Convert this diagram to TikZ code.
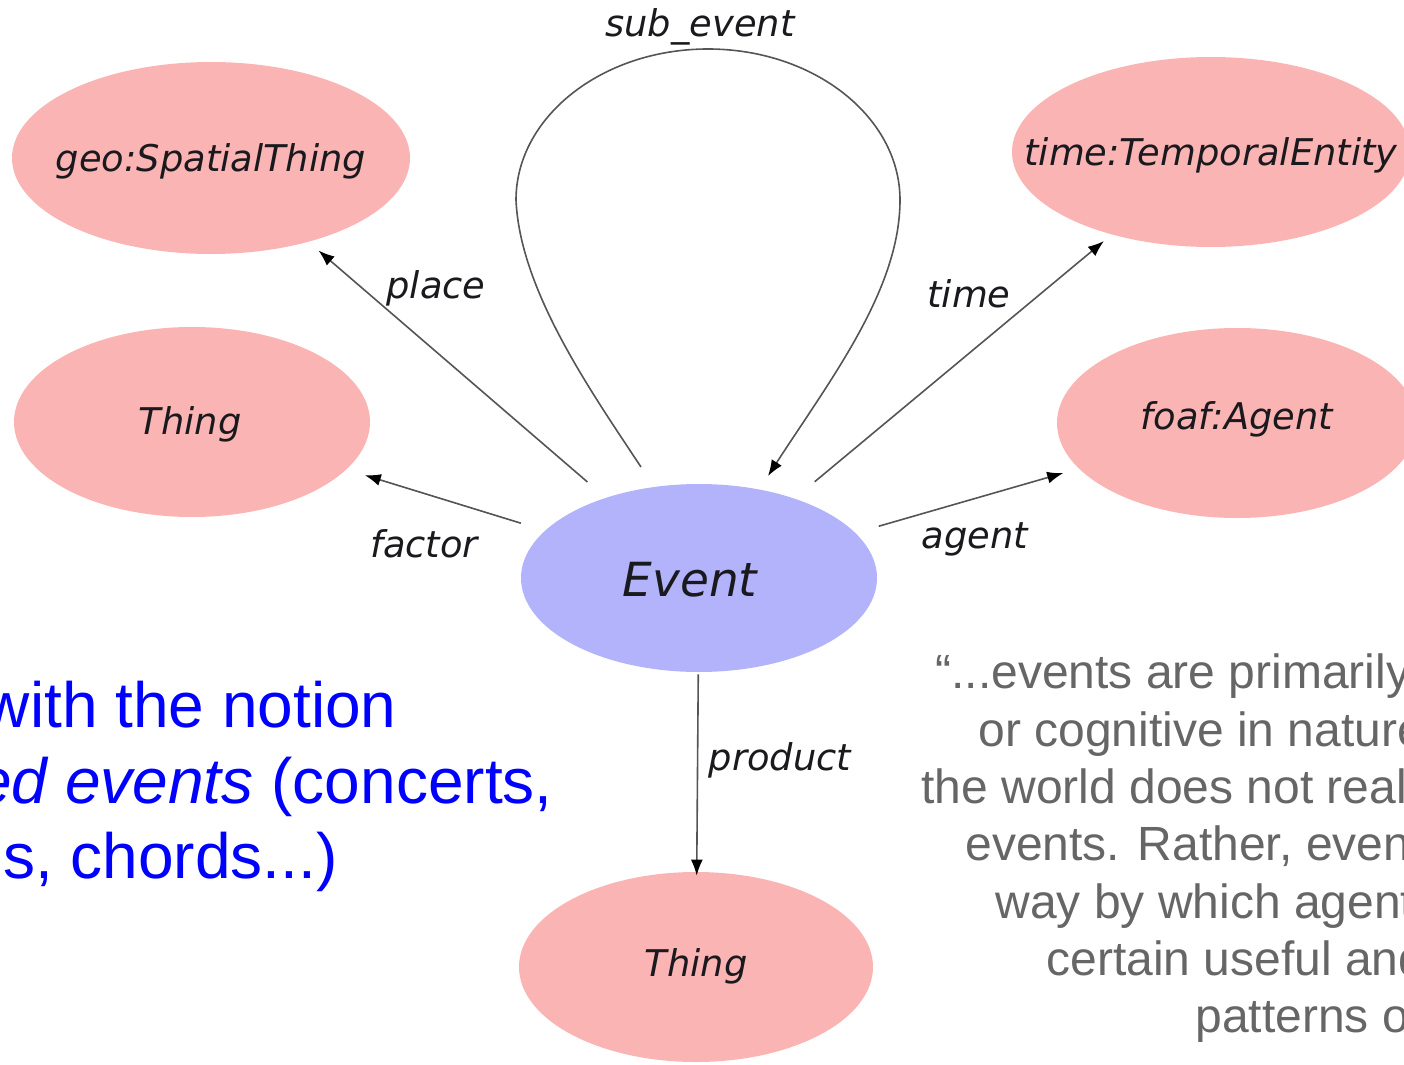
\documentclass[tikz,border=0pt]{standalone}
\usepackage{fontspec}
\setmainfont{Liberation Sans}
\newfontfamily\dvfont{DejaVu Sans}
\usetikzlibrary{shapes.geometric,arrows.meta}
\definecolor{pinkc}{RGB}{251,180,180}
\definecolor{bluec}{RGB}{179,179,251}
\definecolor{nodetext}{RGB}{26,26,30}
\definecolor{edgec}{RGB}{85,85,85}
\definecolor{quotec}{RGB}{102,102,102}
\definecolor{slideblue}{RGB}{0,0,255}
\tikzset{
  cls/.style={ellipse, fill=pinkc, draw=none, inner sep=0pt},
  evt/.style={ellipse, fill=bluec, draw=none, inner sep=0pt},
  clstext/.style={font=\dvfont\itshape\fontsize{18.4}{22}\selectfont, text=nodetext,
    inner sep=0pt, text height=13.4pt, text depth=0pt},
  evttext/.style={font=\dvfont\itshape\fontsize{23.5}{28}\selectfont, text=nodetext,
    inner sep=0pt, text height=17pt, text depth=0pt},
  elabel/.style={font=\dvfont\itshape\fontsize{18.4}{22}\selectfont, text=nodetext,
    inner sep=0pt, anchor=base},
  edge/.style={draw=edgec, line width=0.8pt,
    -{Latex[length=8pt,width=6pt,color=black]}},
  bluetxt/.style={font=\fontsize{32}{38}\selectfont, text=slideblue, inner sep=0pt, anchor=base east},
  quotetxt/.style={font=\fontsize{24}{28.7}\selectfont, text=quotec, inner sep=0pt, anchor=base west}
}
\begin{document}
\begin{tikzpicture}[x=0.5pt,y=-0.5pt]
\useasboundingbox (0,0) rectangle (1404,1065);
\fill[white] (0,0) rectangle (1404,1065);

% ellipses
\node[cls, minimum width=199pt, minimum height=96pt] (geo) at (211,158) {};
\node[cls, minimum width=178pt, minimum height=95pt] (thingL) at (192,422) {};
\node[cls, minimum width=199pt, minimum height=95pt] (temporal) at (1211,152) {};
\node[cls, minimum width=180pt, minimum height=95pt] (agentN) at (1237,423) {};
\node[evt, minimum width=178pt, minimum height=94pt] (event) at (699,578) {};
\node[cls, minimum width=177pt, minimum height=95pt] (thingB) at (696,967) {};

% ellipse texts
\node[clstext] (geotext) at (211,158) {geo:SpatialThing};
\node[clstext] (thingLtext) at (190,421) {Thing};
\node[clstext] (temporaltext) at (1211,152) {time:TemporalEntity};
\node[clstext] (agenttext) at (1237,416) {foaf:Agent};
\node[evttext] (eventtext) at (690,579) {Event};
\node[clstext] (thingBtext) at (696,963) {Thing};

% connectors
\draw[edge, shorten <=12pt, shorten >=6.5pt] (event) -- (geo);
\draw[edge, shorten <=12.5pt, shorten >=9.5pt] (event) -- (thingL);
\draw[edge, shorten <=13pt, shorten >=5pt] (event) -- (temporal);
\draw[edge, shorten <=12pt, shorten >=8pt] (event) -- (agentN);
\draw[edge, shorten <=1pt, shorten >=-2pt] (event) -- (thingB);
\draw[edge] ([shift={(-58,-111)}]event.center)
   .. controls (590,390) and (520,290) .. (516,200)
   .. controls (516,117) and (602,49) .. (708,49)
   .. controls (814,49) and (900,117) .. (900,200)
   .. controls (900,290) and (830,380) .. ([shift={(69,-102)}]event.center);

% edge labels
\node[elabel] (lsub) at (700,37) {sub\_event};
\node[elabel] (lplace) at (436,298) {place};
\node[elabel] (ltime) at (969,307) {time};
\node[elabel] (lfactor) at (424,557) {factor};
\node[elabel] (lagent) at (975,548) {agent};
\node[elabel] (lproduct) at (780,770) {product};

% slide text (blue)
\node[bluetxt] (b1) at (397,727) {with the notion};
\node[bluetxt] (b2) at (553,803) {{\itshape ed events} (concerts,};
\node[bluetxt] (b3) at (338,878) {s, chords...)};

% quote (gray)
\node[quotetxt] (q1) at (935,688) {“...events are primarily};
\node[quotetxt] (q2) at (978,746) {or cognitive in nature};
\node[quotetxt] (q3) at (921,803) {the world does not real};
\node[quotetxt] (q4) at (965,860) {events. Rather, even};
\node[quotetxt] (q5) at (995,918) {way by which agent};
\node[quotetxt] (q6) at (1046,975) {certain useful and};
\node[quotetxt] (q7) at (1195,1032) {patterns o};
\end{tikzpicture}
\end{document}
